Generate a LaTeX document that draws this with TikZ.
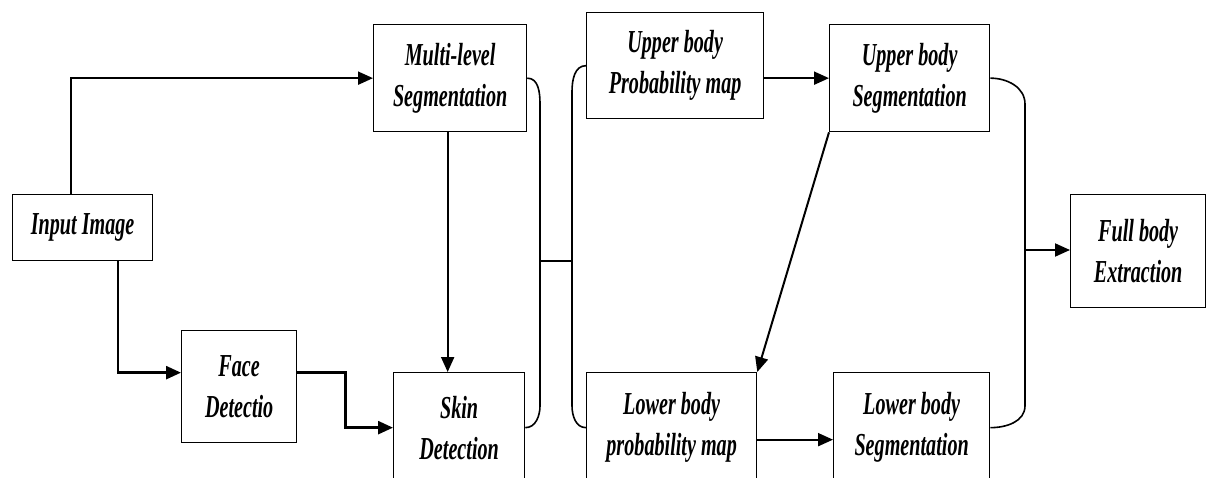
\documentclass[tikz,border=0pt]{standalone}
\usepackage{fontspec}
\setmainfont{Liberation Serif}[FakeStretch=0.63]
\usetikzlibrary{arrows.meta}

\begin{document}
\begin{tikzpicture}
	[x=1pt,y=-1pt,
	stage/.style={rectangle,draw,line width=1.3pt,inner sep=0pt,align=center,anchor=north west,font=\fontsize{32}{41}\selectfont\bfseries\itshape},
	flow/.style={-{Triangle[length=15pt,width=13pt]},line width=2pt},
	brace/.style={line width=1.6pt}]
	\clip (0,0) rectangle (1207,477);
	% boxes, placed by their top left corners
	\node[stage,minimum width=140,minimum height=66] (input) at (12,194) {Input Image};
	\node[stage,minimum width=153,minimum height=107] (mls) at (373,24) {Multi-level\\Segmentation};
	\node[stage,minimum width=115,minimum height=112] (face) at (181,330) {Face\\Detectio};
	\node[stage,minimum width=131,minimum height=110] (skin) at (393,372) {Skin\\Detection};
	\node[stage,minimum width=177,minimum height=106] (upmap) at (586,12) {Upper body\\Probability map};
	\node[stage,minimum width=170,minimum height=110] (lomap) at (586,372) {Lower body\\probability map};
	\node[stage,minimum width=160,minimum height=107] (upseg) at (829,24) {Upper body\\Segmentation};
	\node[stage,minimum width=156,minimum height=110] (loseg) at (833,372) {Lower body\\Segmentation};
	\node[stage,minimum width=135,minimum height=113] (full) at (1070,194) {Full body\\Extraction};
	% junction points of the brackets
	\coordinate (j1) at (540,261);
	\coordinate (j2) at (572,261);
	\coordinate (j3) at (1025,250);
	% arrows
	\draw [flow] ([xshift=-12pt]input.north) |- (mls.west);
	\draw [flow,line width=2.6pt] ([xshift=-0.5pt]input.south east) ++(-35,0) |- ([yshift=14pt]face.west);
	\draw [flow,line width=2.6pt] ([yshift=14pt]face.east) -- ++(48,0) |- (skin.west);
	\draw [flow] ([xshift=-2.5pt]mls.south) -- ([xshift=-2.5pt]mls.south |- skin.north);
	\draw [flow] (upmap.east |- upseg.west) -- (upseg.west);
	\draw [flow] (upseg.south west) -- (lomap.north east);
	\draw [flow] ([yshift=-12pt]lomap.east) -- ([yshift=-12pt]loseg.west);
	% brackets
	\draw [brace] (mls.east) to[out=0,in=90] ([yshift=-26pt]mls.east -| j1) -- ([yshift=22pt]skin.east -| j1) to[out=-90,in=0] (skin.east);
	\draw [brace] (upmap.west) to[out=180,in=90] ([yshift=-26pt]upmap.west -| j2) -- ([yshift=22pt]lomap.west -| j2) to[out=-90,in=180] (lomap.west);
	\draw [brace] (j1) -- (j2);
	\draw [brace] (upseg.east) to[out=0,in=90] ([yshift=-26pt]upseg.east -| j3) -- ([yshift=22pt]loseg.east -| j3) to[out=-90,in=0] (loseg.east);
	\draw [flow] (j3) -- (j3 -| full.west);
\end{tikzpicture}
\end{document}
